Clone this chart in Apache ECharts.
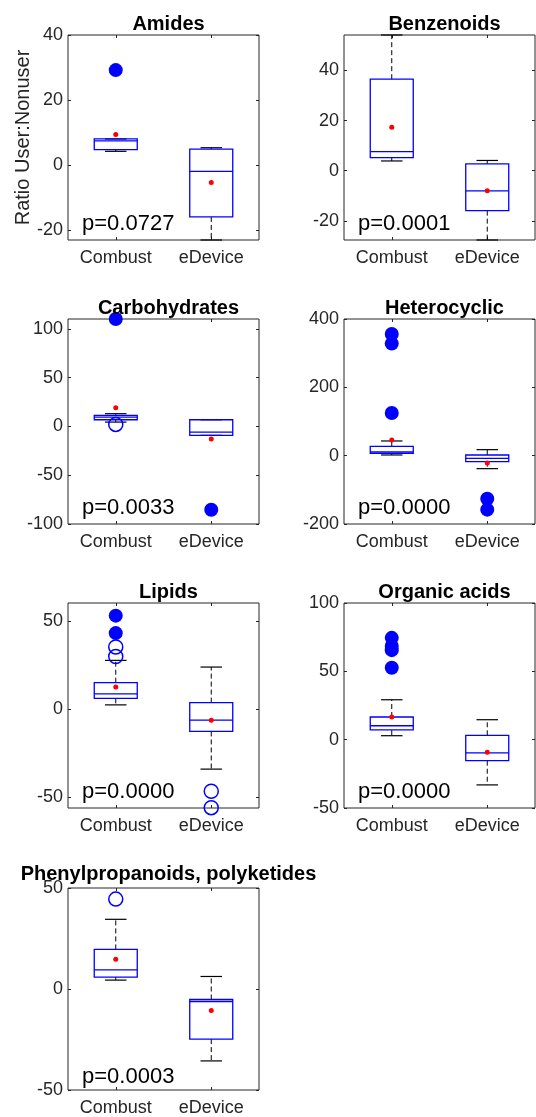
<!DOCTYPE html>
<html>
<head>
<meta charset="utf-8">
<script src="https://cdn.jsdelivr.net/npm/echarts@6/dist/echarts.min.js"></script>
<style>
  html, body { margin: 0; padding: 0; background: #fff; }
  #chart { width: 536px; height: 1117px; }
</style>
</head>
<body>
<div id="chart"></div>
<script>
const groups = ['Combust', 'eDevice'];
const titles = ['Amides', 'Benzenoids', 'Carbohydrates', 'Heterocyclic', 'Lipids', 'Organic acids', 'Phenylpropanoids, polyketides'];
const pValues = ['p=0.0727', 'p=0.0001', 'p=0.0033', 'p=0.0000', 'p=0.0000', 'p=0.0000', 'p=0.0003'];
const yLimits = [[-23.1, 40], [-27.6, 54.1], [-100, 110], [-200, 400], [-56.1, 60.4], [-50, 100], [-50, 50]];
const yTicks = [
  [-20, 0, 20, 40], [-20, 0, 20, 40], [-100, -50, 0, 50, 100], [-200, 0, 200, 400],
  [-50, 0, 50], [-50, 0, 50, 100], [-50, 0, 50]
];
// [lower whisker, q1, median, q3, upper whisker], one row per group
const boxStats = [
  [[4.2, 4.7, 7.4, 8.0, 8.0], [-23.1, -16.0, -2.0, 4.9, 5.3]],
  [[3.9, 5.2, 7.6, 36.5, 54.1], [-27.6, -15.9, -8.0, 2.7, 4.1]],
  [[4.4, 6.8, 9.5, 11.2, 13.0], [-9.2, -9.2, -5.8, 6.8, 6.8]],
  [[2.0, 6.8, 10.7, 27.3, 43.0], [-38.0, -17.6, -7.8, 2.0, 17.6]],
  [[2.5, 6.2, 8.7, 15.1, 27.8], [-34.0, -12.6, -6.2, 3.8, 24.0]],
  [[2.9, 7.1, 10.2, 16.6, 29.2], [-33.1, -15.4, -9.7, 3.2, 14.6]],
  [[4.4, 5.9, 9.5, 19.6, 34.5], [-35.6, -24.8, -6.2, -5.2, 6.2]]
];
const means = [[9.4, -5.4], [17.3, -8.0], [19.1, -12.9], [46, -21.5], [12.7, -6.2], [16.6, -9.2], [14.7, -10.6]];
// [group index, value]
const filledOutliers = [
  [[0, 29.2]],
  [],
  [[0, 110], [1, -85.4]],
  [[0, 356], [0, 328], [0, 125], [1, -126], [1, -158]],
  [[0, 60.5], [0, 53.2], [0, 43.3]],
  [[0, 74.5], [0, 68.5], [0, 65.5], [0, 52.6]],
  []
];
const openOutliers = [
  [],
  [],
  [[0, 2.0]],
  [],
  [[0, 35.4], [0, 30.0], [1, -46.6], [1, -55.9]],
  [],
  [[0, 44.5]]
];

const FONT = 'Liberation Sans';
const AXIS_COLOR = '#262626';
const BLUE = '#0000ff';
const BOX_W = 43;
const colLeft = [68, 344];
const rowTop = [35, 319, 603, 888];
const plotW = 191;
const plotH = 205;

function renderBox(params, api) {
  const i = api.value(0);
  const lo = api.coord([i, api.value(1)]);
  const q1 = api.coord([i, api.value(2)]);
  const md = api.coord([i, api.value(3)]);
  const q3 = api.coord([i, api.value(4)]);
  const hi = api.coord([i, api.value(5)]);
  const x = lo[0];
  const w = BOX_W / 2;
  const c = BOX_W / 4;
  const dash = { stroke: '#000', lineWidth: 1, lineDash: [5, 3] };
  const solid = { stroke: '#000', lineWidth: 1.2 };
  const box = { stroke: BLUE, lineWidth: 1.3, fill: 'none' };
  return {
    type: 'group',
    children: [
      { type: 'line', shape: { x1: x, y1: q3[1], x2: x, y2: hi[1] }, style: dash },
      { type: 'line', shape: { x1: x, y1: q1[1], x2: x, y2: lo[1] }, style: dash },
      { type: 'line', shape: { x1: x - c, y1: hi[1], x2: x + c, y2: hi[1] }, style: solid },
      { type: 'line', shape: { x1: x - c, y1: lo[1], x2: x + c, y2: lo[1] }, style: solid },
      { type: 'rect', shape: { x: x - w, y: q3[1], width: 2 * w, height: q1[1] - q3[1] }, style: box },
      { type: 'line', shape: { x1: x - w, y1: md[1], x2: x + w, y2: md[1] }, style: box }
    ]
  };
}

const grid = [], xAxis = [], yAxis = [], series = [], title = [], graphic = [];

titles.forEach((name, p) => {
  const left = colLeft[p % 2];
  const top = rowTop[Math.floor(p / 2)];
  grid.push({ left: left, top: top, width: plotW, height: plotH, show: true, borderColor: AXIS_COLOR, borderWidth: 1 });

  const tickStyle = { show: true, inside: true, length: 3, lineStyle: { color: AXIS_COLOR, width: 1 } };
  xAxis.push({
    gridIndex: p, type: 'category', data: groups, position: 'bottom',
    axisLine: { show: false, onZero: false }, axisTick: Object.assign({ alignWithLabel: true }, tickStyle),
    axisLabel: { margin: 9, color: AXIS_COLOR, fontFamily: FONT, fontSize: 18 }
  });
  xAxis.push({
    gridIndex: p, type: 'category', data: groups, position: 'top',
    axisLine: { show: false, onZero: false }, axisTick: Object.assign({ alignWithLabel: true }, tickStyle),
    axisLabel: { show: false }
  });
  const yBase = {
    gridIndex: p, type: 'value', min: yLimits[p][0], max: yLimits[p][1],
    axisLine: { show: false, onZero: false }, splitLine: { show: false }
  };
  yAxis.push(Object.assign({}, yBase, {
    position: 'left',
    axisTick: Object.assign({ customValues: yTicks[p] }, tickStyle),
    axisLabel: { customValues: yTicks[p], margin: 5, color: AXIS_COLOR, fontFamily: FONT, fontSize: 18 },
    name: p === 0 ? 'Ratio User:Nonuser' : '',
    nameLocation: 'middle', nameGap: 35,
    nameTextStyle: { color: AXIS_COLOR, fontFamily: FONT, fontSize: 20 }
  }));
  yAxis.push(Object.assign({}, yBase, {
    position: 'right',
    axisTick: Object.assign({ customValues: yTicks[p] }, tickStyle),
    axisLabel: { show: false }
  }));

  const xi = 2 * p, yi = 2 * p;
  series.push({
    type: 'custom', xAxisIndex: xi, yAxisIndex: yi, renderItem: renderBox, silent: true,
    data: boxStats[p].map((s, i) => [i].concat(s))
  });
  series.push({
    type: 'scatter', xAxisIndex: xi, yAxisIndex: yi, silent: true, symbol: 'circle', symbolSize: 14,
    itemStyle: { color: BLUE, opacity: 1 }, data: filledOutliers[p], z: 3
  });
  series.push({
    type: 'scatter', xAxisIndex: xi, yAxisIndex: yi, silent: true, symbol: 'circle', symbolSize: 14,
    itemStyle: { color: 'rgba(0,0,0,0)', borderColor: BLUE, borderWidth: 1.5, opacity: 1 },
    data: openOutliers[p], z: 3
  });
  series.push({
    type: 'scatter', xAxisIndex: xi, yAxisIndex: yi, silent: true, symbol: 'circle', symbolSize: 5,
    itemStyle: { color: '#ff0000', opacity: 1 }, data: means[p].map((m, i) => [i, m]), z: 4
  });

  title.push({
    text: name, left: left + plotW / 2, top: top - (p === 6 ? 29 : 26), textAlign: 'center',
    textStyle: { fontFamily: FONT, fontSize: 20, fontWeight: 'bold', color: '#000' }
  });
  graphic.push({
    type: 'text', left: left + 14, top: top + plotH - 27, silent: true,
    style: { text: pValues[p], fontFamily: FONT, fontSize: 22, fill: '#000' }
  });
});

const chart = echarts.init(document.getElementById('chart'), null, { renderer: 'canvas' });
chart.setOption({
  animation: false,
  backgroundColor: '#fff',
  title: title,
  grid: grid,
  xAxis: xAxis,
  yAxis: yAxis,
  series: series,
  graphic: graphic
});
</script>
</body>
</html>
